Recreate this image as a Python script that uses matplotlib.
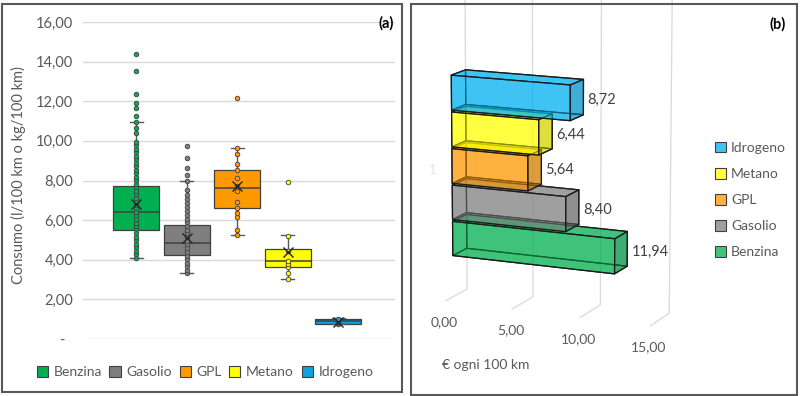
import matplotlib.pyplot as plt
import matplotlib.colors as mcolors
from matplotlib.patches import Patch, Rectangle
from matplotlib.ticker import FuncFormatter
import numpy as np

plt.rcParams['font.family'] = ['Lato', 'DejaVu Sans']

fuels = ['Benzina', 'Gasolio', 'GPL', 'Metano', 'Idrogeno']
box_colors = ['#00B050', '#7F7F7F', '#FF9900', '#FFFF00', '#10A0E0']
bar_colors = ['#00B050', '#808080', '#FF9900', '#FFFF00', '#00B0F0']

# (a) consumi dei singoli veicoli (l/100 km o kg/100 km)
benzina = [4.07, 4.27, 4.45, 4.63, 4.81, 4.99, 5.17, 5.35, 5.53, 5.70, 5.88, 6.06,
           6.24, 6.41, 6.59, 6.77, 6.95, 7.12, 7.30, 7.48, 7.66, 7.83, 8.01, 8.18,
           8.36, 8.54, 8.72, 8.89, 9.07, 9.25, 9.43, 9.60, 9.78, 9.96, 10.42, 10.67,
           10.94, 11.25, 11.65, 11.93, 12.36, 13.54, 14.41]
gasolio = [3.32, 3.49, 3.66, 3.84, 4.02, 4.20, 4.39, 4.58, 4.77, 4.95, 5.14, 5.33,
           5.52, 5.70, 5.89, 6.08, 6.27, 6.46, 6.65, 6.85, 7.07, 7.27, 7.53, 7.98,
           8.30, 8.62, 9.14, 9.73]
gpl = [5.24, 5.51, 6.15, 6.38, 6.63, 6.94, 7.45, 7.73, 8.14, 8.54, 8.84, 9.34, 9.63, 12.14]
metano = [3.03, 3.32, 3.62, 3.79, 3.95, 4.44, 5.20, 7.94]
idrogeno = [0.76, 0.82, 0.88, 0.93, 1.02]

# statistiche dei box
q1 = [5.51, 4.24, 6.63, 3.62, 0.77]
medians = [6.41, 4.83, 7.64, 3.95, 0.89]
q3 = [7.73, 5.76, 8.54, 4.55, 0.99]
whis_lo = [4.07, 3.32, 5.24, 3.03, 0.74]
whis_hi = [10.94, 8.00, 9.63, 5.24, 1.05]
means = [6.80, 5.08, 7.72, 4.40, 0.86]

# (b) costo in euro ogni 100 km
costo = [11.94, 8.40, 5.64, 6.44, 8.72]

def virgola(v, pos=None):
    if v == 0:
        return '-  '
    return f'{v:.2f}'.replace('.', ',')

grigio = '#595959'
fig = plt.figure(figsize=(8, 3.96), dpi=100)

# ---------------- pannello (a): box plot
ax = fig.add_axes([83/800, 1-339/396, 312/800, 317/396])
stats = []
for i in range(len(fuels)):
    stats.append(dict(q1=q1[i], med=medians[i], q3=q3[i], whislo=whis_lo[i],
                      whishi=whis_hi[i], mean=means[i], fliers=[]))
bp = ax.bxp(stats, positions=range(len(fuels)), widths=0.91, patch_artist=True,
            showmeans=True, showfliers=False, capwidths=0.26,
            boxprops=dict(edgecolor='#404040', linewidth=0.9),
            medianprops=dict(color='#404040', linewidth=1.1),
            whiskerprops=dict(color=grigio, linewidth=1),
            capprops=dict(color=grigio, linewidth=1),
            meanprops=dict(marker='x', markeredgecolor='#262626', markersize=7,
                           markeredgewidth=1.0))
for patch, c in zip(bp['boxes'], box_colors):
    patch.set_facecolor(c)
    patch.set_zorder(2)
for m in bp['means']:
    m.set_zorder(5)

punti = [benzina, gasolio, gpl, metano, idrogeno]
for i, vals in enumerate(punti):
    ax.scatter([i] * len(vals), vals, s=11, color=box_colors[i], edgecolors='#404040',
               linewidths=0.6, zorder=4)

ax.set_xlim(-1.05, 5.12)
ax.set_ylim(0, 16)
ax.set_yticks(range(0, 17, 2))
ax.yaxis.set_major_formatter(FuncFormatter(virgola))
ax.set_xticks([])
ax.tick_params(axis='y', length=0, pad=7, labelsize=10.5, labelcolor=grigio)
ax.yaxis.grid(True, color='#D9D9D9', linewidth=1)
ax.set_axisbelow(True)
for s in ax.spines.values():
    s.set_visible(False)

fig.text(18/800, 1-175/396, 'Consumo (l/100 km o kg/100 km)', rotation=90,
         ha='center', va='center', fontsize=10.5, color=grigio)
fig.text(386/800, 1-23/396, '(a)', ha='center', va='center', fontsize=10.5,
         fontweight='bold')
handles = [Patch(facecolor=c, edgecolor='#404040', linewidth=0.8) for c in box_colors]
fig.legend(handles, fuels, loc='center', bbox_to_anchor=(205/800, 1-372/396), ncol=5,
           frameon=False, handlelength=0.8, handleheight=0.8, handletextpad=0.4,
           columnspacing=0.56, fontsize=10, labelcolor=grigio)

# ---------------- pannello (b): barre 3D
ax3 = fig.add_axes([402/800, 1-298/396, 300/800, 298/396], projection='3d')
ax3.set_proj_type('persp', focal_length=1.6)
ax3.view_init(elev=12, azim=-66)

facecols = []
for c in bar_colors:
    base = np.array(mcolors.to_rgba(c, 0.5))
    scuro = base.copy()
    scuro[:3] = scuro[:3] * 0.75
    facecols += [base, base, base, base, base, scuro]
z = np.arange(len(fuels))
ax3.bar3d(np.zeros(len(fuels)), np.zeros(len(fuels)), z, costo, 1, 0.95,
          color=facecols, shade=False, edgecolor='#1A1A1A', linewidth=0.9)

for i, v in enumerate(costo):
    ax3.text(v + 0.3, 1, z[i] + 0.4, virgola(v), ha='left', va='center',
             fontsize=10.5, color='#404040')
ax3.text(-2.6, 1, 2.1, '1', ha='center', va='center', fontsize=9, color='#E3E3E3')

ax3.set_xlim(0, 15)
ax3.set_ylim(-0.6, 1)
ax3.set_zlim(-1.15, 7.7)
ax3.set_box_aspect((219, 51, 326), zoom=1.33)
ax3.set_xticks([0, 5, 10, 15])
ax3.xaxis.set_major_formatter(FuncFormatter(lambda v, p: f'{v:.2f}'.replace('.', ',')))
ax3.set_yticks([])
ax3.set_zticks([])
ax3.tick_params(axis='x', colors=(1, 1, 1, 0), labelcolor=grigio, labelsize=10, pad=-3)
for a in (ax3.xaxis, ax3.yaxis, ax3.zaxis):
    a.set_pane_color((1, 1, 1, 0))
    a.line.set_color((1, 1, 1, 0))
    a.label.set_visible(False)
    a.offsetText.set_visible(False)
ax3.title.set_visible(False)
ax3.xaxis._axinfo['grid'].update(color='#D9D9D9', linewidth=0.9)
ax3.yaxis._axinfo['grid'].update(color=(1, 1, 1, 0), linewidth=0)
ax3.zaxis._axinfo['grid'].update(color=(1, 1, 1, 0), linewidth=0)

fig.text(486/800, 1-365/396, '€ ogni 100 km', ha='center', va='center', fontsize=10,
         color=grigio)
fig.text(778/800, 1-24/396, '(b)', ha='center', va='center', fontsize=10.5,
         fontweight='bold')
handles3 = [Patch(facecolor=mcolors.to_rgba(c, 0.75), edgecolor='#404040', linewidth=0.8)
            for c in bar_colors]
fig.legend(handles3[::-1], fuels[::-1], loc='center left',
           bbox_to_anchor=(702/800, 1-200/396), frameon=False, handlelength=0.8,
           handleheight=0.8, handletextpad=0.4, labelspacing=1.0, fontsize=10,
           labelcolor=grigio)

# cornici dei due pannelli
fig.add_artist(Rectangle((2/800, 1-392/396), 400/800, 388/396, transform=fig.transFigure,
                         fill=False, edgecolor='#595959', linewidth=1.5))
fig.add_artist(Rectangle((411/800, 1-395/396), 386/800, 391/396, transform=fig.transFigure,
                         fill=False, edgecolor='#595959', linewidth=1.5))

fig.savefig('out.png', dpi=100)
